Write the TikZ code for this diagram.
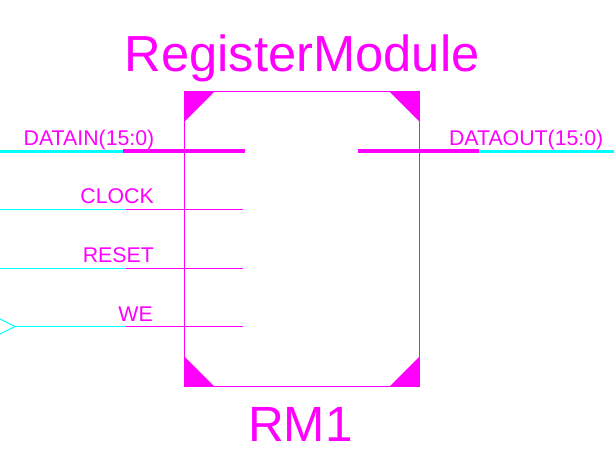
\documentclass[tikz,border=0pt]{standalone}
\usepackage{fontspec}
\setmainfont{Liberation Sans}
\definecolor{symmag}{RGB}{255,0,255}
\definecolor{wirecy}{RGB}{0,255,255}
\tikzset{
  symline/.style={draw=symmag,line width=1pt},
  busline/.style={draw=symmag,line width=4pt},
  wireline/.style={draw=wirecy,line width=1pt},
  buswire/.style={draw=wirecy,line width=3pt},
  corner/.style={fill=symmag,draw=none},
  pinlabel/.style={text=symmag,font=\fontsize{21.3}{22}\selectfont,inner sep=0pt,anchor=base east},
  title/.style={text=symmag,font=\fontsize{50.7}{52}\selectfont,inner sep=0pt,anchor=base},
  insttext/.style={text=symmag,font=\fontsize{49.5}{52}\selectfont,inner sep=0pt,anchor=base}
}
\begin{document}
\begin{tikzpicture}[x=1pt,y=-1pt]
\useasboundingbox (0,0) rectangle (614,467);
% body
\coordinate (tl) at (184.5,91.5);
\coordinate (tr) at (419.5,91.5);
\coordinate (br) at (419.5,386.5);
\coordinate (bl) at (184.5,386.5);
\draw[symline] (tl) -- (tr) -- (br) -- (bl) -- cycle;
\fill[corner] (tl) -- ++(30,0) -- ++(-30,30) -- cycle;
\fill[corner] (tr) -- ++(-30,0) -- ++(30,30) -- cycle;
\fill[corner] (br) -- ++(-30,0) -- ++(30,-30) -- cycle;
\fill[corner] (bl) -- ++(30,0) -- ++(-30,-30) -- cycle;
% wires
\coordinate (dinL) at (0,151);   \coordinate (dinM) at (125,151);  \coordinate (dinS) at (123,151); \coordinate (dinR) at (245,151);
\coordinate (clkL) at (0,209.5); \coordinate (clkM) at (126,209.5); \coordinate (clkR) at (243,209.5);
\coordinate (rstL) at (0,268.5); \coordinate (rstM) at (126,268.5); \coordinate (rstR) at (243,268.5);
\coordinate (weL) at (15,326.5); \coordinate (weM) at (126,326.5); \coordinate (weR) at (243,326.5);
\coordinate (doutL) at (358,151); \coordinate (doutM) at (479,151); \coordinate (doutS) at (477,151); \coordinate (doutR) at (614,151);
\coordinate (arrT) at (0,319); \coordinate (arrB) at (0,334);
\draw[buswire] (dinL) -- (dinM);
\draw[busline] (dinS) -- (dinR);
\draw[wireline] (clkL) -- (clkM);
\draw[symline] (clkM) -- (clkR);
\draw[wireline] (rstL) -- (rstM);
\draw[symline] (rstM) -- (rstR);
\draw[wireline] (weL) -- (weM);
\draw[symline] (weM) -- (weR);
\draw[wireline] (arrT) -- (weL) -- (arrB);
\draw[buswire] (doutS) -- (doutR);
\draw[busline] (doutL) -- (doutM);
% labels
\node[pinlabel] (ldin) at (154.5,145) {DATAIN(15:0)};
\node[pinlabel] (lclk) at (154,203) {CLOCK};
\node[pinlabel] (lrst) at (154,262) {RESET};
\node[pinlabel] (lwe) at (153,321) {WE};
\node[pinlabel] (ldout) at (603.5,145) {DATAOUT(15:0)};
\node[title] (ttl) at (302,71) {RegisterModule};
\node[insttext] (inst) at (300.5,441) {RM1};
\end{tikzpicture}
\end{document}
